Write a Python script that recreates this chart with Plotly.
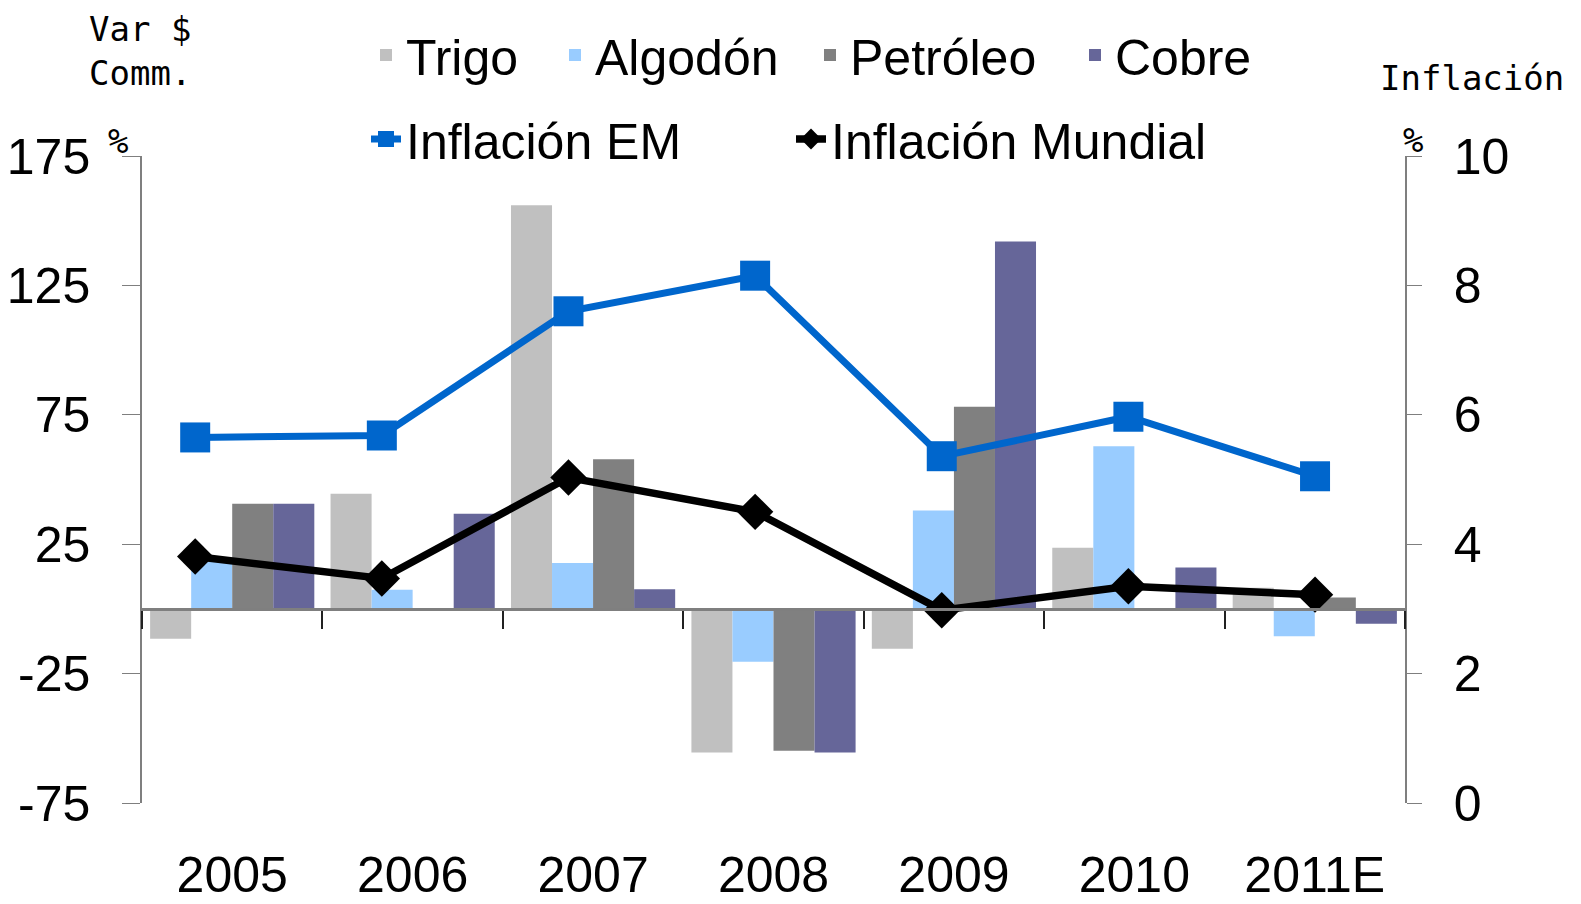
import plotly.graph_objects as go

years = ["2005", "2006", "2007", "2008", "2009", "2010", "2011E"]

# variacion % precio commodities (eje izq)
trigo = [-11.5, 44.5, 156.0, -55.5, -15.4, 23.6, 8.2]
algodon = [18.1, 7.4, 17.7, -20.4, 38.0, 62.8, -10.6]
petroleo = [40.6, 0.0, 57.8, -54.8, 78.1, 0.0, 4.4]
cobre = [40.6, 36.8, 7.6, -55.5, 142.0, 16.0, -5.7]

# inflacion % (eje der)
infl_em = [5.65, 5.68, 7.60, 8.15, 5.36, 5.97, 5.05]
infl_mundial = [3.81, 3.47, 5.03, 4.50, 2.98, 3.35, 3.22]

left_ticks = [-75, -25, 25, 75, 125, 175]
right_ticks = [0, 2, 4, 6, 8, 10]
y_range = [-75, 175]

FONT = "Liberation Sans, Arial, sans-serif"
MONO = "DejaVu Sans Mono, monospace"

# page offset of the plot div (body margin), figure size and plot area in px
OFF = 8
W, H = 1581 - OFF, 904 - OFF
L, R, T, B = 134, 176, 148, 101
PW, PH = W - L - R, H - T - B


def px(x):
    # page x (px) -> paper x
    return (x - OFF - L) / PW


def py(y):
    # page y (px) -> paper y
    return (H - B - (y - OFF)) / PH


# category axis sits on the zero line, labels go down to the bottom
zero_frac = (0 - y_range[0]) / (y_range[1] - y_range[0])
label_standoff = int(round(45 + zero_frac * PH - 18))

fig = go.Figure()

bars = [("Trigo", trigo, "#C0C0C0"), ("Algodón", algodon, "#99CCFF"),
        ("Petróleo", petroleo, "#808080"), ("Cobre", cobre, "#666699")]
for i, (name, vals, col) in enumerate(bars):
    fig.add_trace(go.Bar(x=years, y=vals, name=name, marker_color=col,
                         marker_line_width=0, legend="legend" if i == 0 else f"legend{i + 1}"))

fig.add_trace(go.Scatter(x=years, y=infl_em, name="Inflación EM", xaxis="x2", yaxis="y2",
                         mode="lines+markers", line=dict(color="#0066CC", width=7),
                         marker=dict(symbol="square", size=30, color="#0066CC"),
                         legend="legend5"))
fig.add_trace(go.Scatter(x=years, y=infl_mundial, name="Inflación Mundial", xaxis="x2", yaxis="y2",
                         mode="lines+markers", line=dict(color="#000000", width=7.5),
                         marker=dict(symbol="diamond", size=28, color="#000000"),
                         legend="legend6"))

fig.update_layout(
    width=W, height=H,
    margin=dict(l=L, r=R, t=T, b=B, autoexpand=False),
    paper_bgcolor="white", plot_bgcolor="white",
    font=dict(family=FONT, size=50, color="black"),
    barmode="group", bargap=0.09, bargroupgap=0,
    showlegend=True,
    xaxis=dict(type="category", range=[-0.5, 6.5], anchor="free", position=zero_frac,
               showline=True, linecolor="#7f7f7f", linewidth=2.5,
               ticks="outside", tickson="boundaries", ticklen=18, tickwidth=2,
               tickcolor="#222222", showgrid=False, zeroline=False,
               ticklabelstandoff=label_standoff, automargin=False, tickfont=dict(size=50)),
    xaxis2=dict(type="category", overlaying="x", range=[-0.285, 6.482], visible=False),
    yaxis=dict(range=y_range, tickvals=left_ticks, ticktext=[str(v) for v in left_ticks],
               showline=True, linecolor="#7f7f7f", automargin=False,
               linewidth=1.5, ticks="outside", ticklen=18, tickcolor="#7f7f7f",
               ticklabelstandoff=22, showgrid=False, zeroline=False),
    yaxis2=dict(overlaying="y", side="right", range=[0, 10], tickvals=right_ticks,
                ticktext=[str(v) for v in right_ticks], showline=True, automargin=False,
                linecolor="#7f7f7f", linewidth=1.5, ticks="outside", ticklen=15,
                tickcolor="#7f7f7f", ticklabelstandoff=22, showgrid=False, zeroline=False),
    yaxis3=dict(overlaying="y", side="right", anchor="x", range=[0, 10], tickvals=right_ticks,
                ticks="inside", ticklen=15, tickcolor="#7f7f7f", showline=False,
                showticklabels=False, showgrid=False, zeroline=False),
)

# one legend box per entry so each sits where the original puts it
# (text left edge in page px, row centre in page px)
entries = [(408, 55), (597, 55), (852, 55), (1117, 55), (408, 139), (833, 139)]
for i, (tx, ty) in enumerate(entries):
    key = "legend" if i == 0 else f"legend{i + 1}"
    fig.update_layout({key: dict(orientation="h", x=px(tx - 42), y=py(ty), xanchor="left",
                                 yanchor="middle", font=dict(size=50),
                                 bgcolor="rgba(0,0,0,0)", borderwidth=0)})

notes = [("Var $", 87, 29, "left"), ("Comm.", 87, 73, "left"),
         ("%", 118, 141, "center"), ("Inflación", 1378, 78, "left"),
         ("%", 1413, 140, "center")]
for txt, ax, ay, anc in notes:
    fig.add_annotation(text=txt, x=px(ax), y=py(ay), xref="paper", yref="paper", showarrow=False,
                       xanchor=anc, yanchor="middle", font=dict(family=MONO, size=34))

fig.write_html("out.html")
